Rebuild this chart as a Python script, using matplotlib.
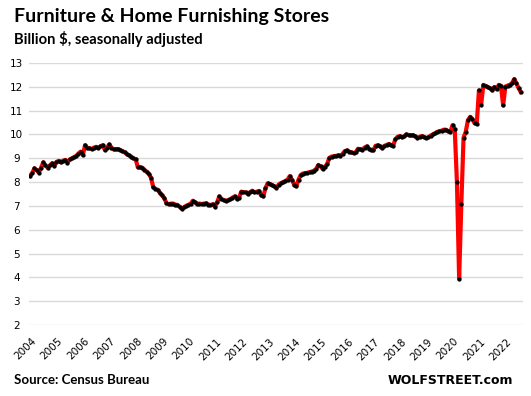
import matplotlib
matplotlib.use("Agg")
import matplotlib.pyplot as plt
import numpy as np
import pandas as pd

# monthly sales, billion $, seasonally adjusted (Jan 2004 onwards)
sales = [
    8.27, 8.38, 8.58, 8.50, 8.40, 8.60, 8.83, 8.70, 8.61, 8.70, 8.79, 8.68,   # 2004
    8.85, 8.89, 8.83, 8.90, 8.93, 8.82, 8.95, 9.00, 9.05, 9.10, 9.20, 9.28,   # 2005
    9.14, 9.55, 9.44, 9.42, 9.39, 9.45, 9.48, 9.44, 9.50, 9.55, 9.35, 9.45,   # 2006
    9.58, 9.45, 9.37, 9.38, 9.39, 9.35, 9.30, 9.25, 9.17, 9.12, 9.07, 9.00,   # 2007
    8.96, 8.62, 8.62, 8.61, 8.52, 8.44, 8.35, 8.18, 7.78, 7.72, 7.68, 7.55,   # 2008
    7.44, 7.33, 7.12, 7.07, 7.10, 7.10, 7.06, 7.04, 6.97, 6.88, 6.95, 7.01,   # 2009
    7.05, 7.10, 7.22, 7.15, 7.08, 7.10, 7.08, 7.10, 7.11, 7.06, 7.04, 7.07,   # 2010
    6.97, 7.15, 7.40, 7.30, 7.24, 7.21, 7.25, 7.28, 7.35, 7.40, 7.30, 7.35,   # 2011
    7.60, 7.58, 7.57, 7.50, 7.58, 7.64, 7.57, 7.60, 7.63, 7.45, 7.40, 7.75,   # 2012
    7.95, 7.92, 7.88, 7.82, 7.76, 7.90, 7.96, 8.00, 8.05, 8.10, 8.25, 8.10,   # 2013
    7.90, 7.82, 8.10, 8.30, 8.36, 8.38, 8.39, 8.42, 8.44, 8.48, 8.55, 8.72,   # 2014
    8.66, 8.55, 8.65, 8.75, 9.02, 9.07, 9.09, 9.10, 9.12, 9.10, 9.18, 9.30,   # 2015
    9.33, 9.28, 9.25, 9.22, 9.25, 9.40, 9.38, 9.36, 9.45, 9.50, 9.40, 9.36,   # 2016
    9.33, 9.52, 9.55, 9.50, 9.42, 9.52, 9.56, 9.60, 9.55, 9.52, 9.80, 9.90,   # 2017
    9.93, 9.88, 9.92, 10.00, 9.98, 9.96, 9.97, 9.92, 9.86, 9.90, 9.93, 9.90,  # 2018
    9.85, 9.88, 9.95, 10.00, 10.05, 10.11, 10.13, 10.16, 10.20, 10.20, 10.14, 10.11,  # 2019
    10.39, 10.22, 7.99, 3.95, 7.08, 9.86, 10.11, 10.60, 10.74, 10.65, 10.47, 10.44,   # 2020
    11.85, 11.25, 12.08, 12.04, 11.98, 11.94, 11.85, 11.99, 11.90, 12.08, 12.04, 11.22,  # 2021
    12.01, 12.05, 12.08, 12.15, 12.32, 12.15, 11.95, 11.78,                   # 2022
]
start_year = 2004
year_labels = [str(y) for y in range(2004, 2023)]
y_ticks = list(range(2, 14))

title = "Furniture & Home Furnishing Stores"
subtitle = "Billion $, seasonally adjusted"
source = "Source: Census Bureau"
brand = "WOLFSTREET.com"


def main() -> None:
    months = pd.date_range(f"{start_year}-01-01", periods=len(sales), freq="MS")
    x = months.year + (months.month - 1) / 12.0

    fig = plt.figure(figsize=(5.31, 3.96), dpi=100)
    ax = fig.add_axes([0.0546, 0.179, 0.9304, 0.662])

    ax.plot(x, sales, color="#ff0000", lw=3, solid_joinstyle="round", zorder=3)
    ax.plot(x, sales, ls="none", marker="o", ms=2.1, color="black", zorder=4)

    ax.set_ylim(2, 13)
    ax.set_xlim(2003.96, 2022.67)
    ax.set_yticks(y_ticks)
    ax.grid(True, axis="y", color="#d9d9d9", lw=1)
    ax.set_axisbelow(True)
    for s in ax.spines.values():
        s.set_visible(False)

    ticks = np.arange(len(year_labels)) + 2004.0
    ax.set_xticks(ticks + 0.04)
    ax.set_xticklabels(year_labels, rotation=45, ha="right", rotation_mode="anchor",
                       fontsize=7.5)
    ax.tick_params(axis="x", length=0, pad=8)
    ax.tick_params(axis="y", length=0, pad=9, labelsize=7.5)
    for lbl in ax.get_yticklabels():
        lbl.set_horizontalalignment("center")

    fig.text(0.026, 0.945, title, fontsize=14, fontweight="bold", family="Lato",
             va="baseline")
    fig.text(0.026, 0.888, subtitle, fontsize=10.6, fontweight="bold", family="Lato",
             va="baseline")
    fig.text(0.026, 0.03, source, fontsize=9.5, fontweight="bold", family="Lato",
             va="baseline")
    fig.text(0.966, 0.03, brand, fontsize=9, fontweight="bold", family="DejaVu Sans",
             ha="right", va="baseline")

    fig.savefig("out.png", dpi=100)
    plt.close(fig)


if __name__ == "__main__":
    main()
